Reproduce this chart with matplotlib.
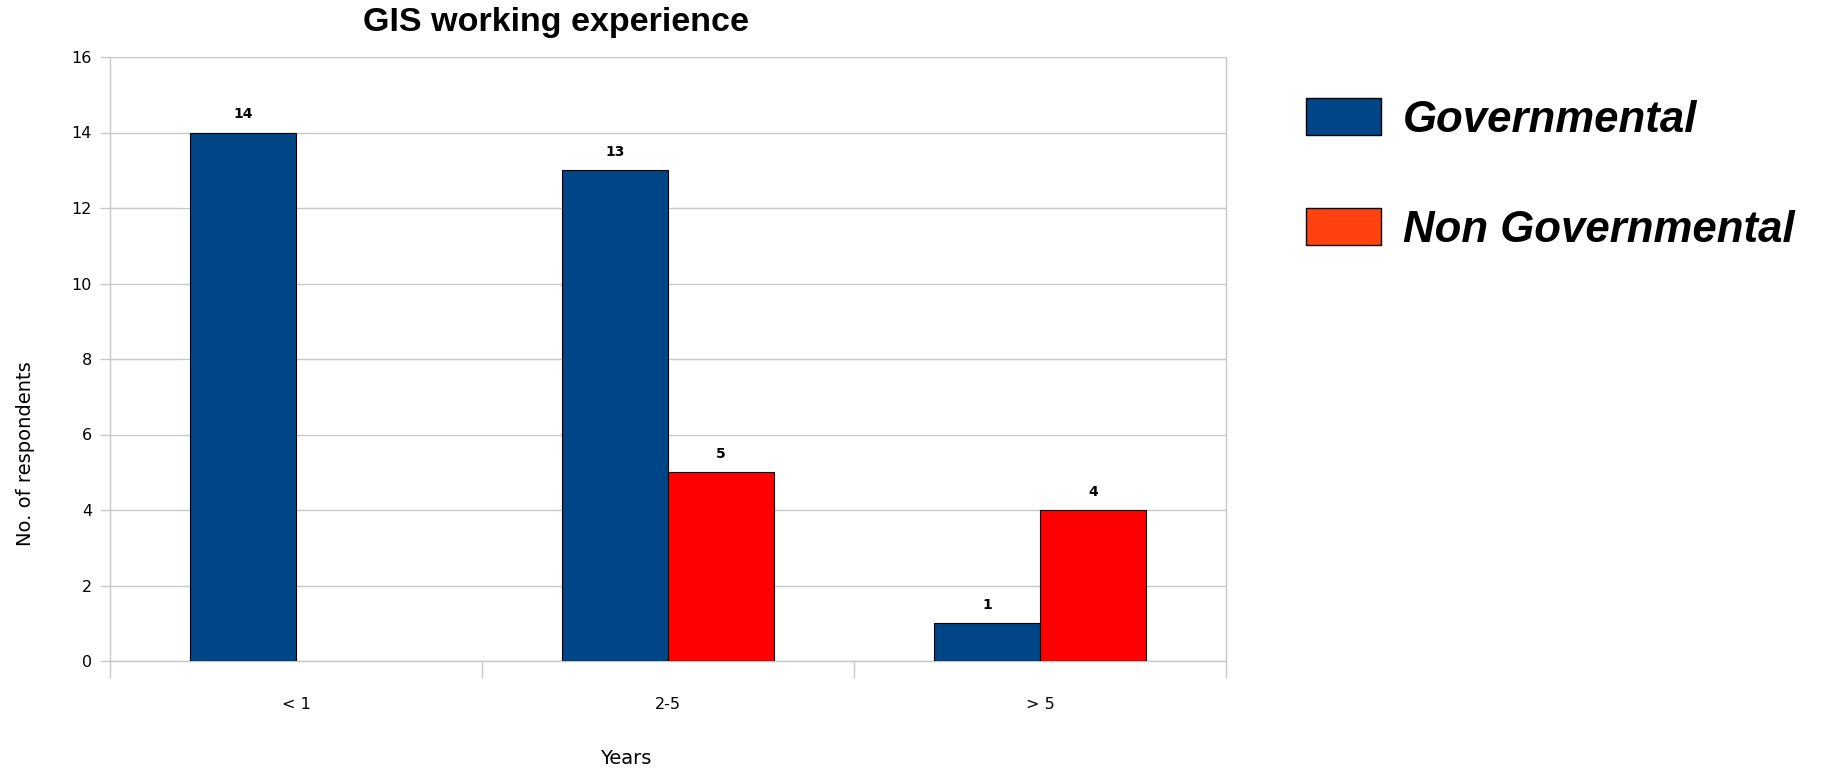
import matplotlib.pyplot as plt
from matplotlib.patches import Patch
from matplotlib.ticker import MultipleLocator, FixedLocator
import numpy as np

plt.rcParams['font.family'] = ['DejaVu Sans']

# Data
categories = ['< 1', '2-5', '> 5']
governmental = [14, 13, 1]
non_governmental = [0, 5, 4]
series_names = ['Governmental', 'Non Governmental']

blue = '#004586'
red = '#ff0000'
legend_red = '#ff420e'
grid_grey = '#c8c8c8'

fig = plt.figure(figsize=(18.24, 7.70), dpi=100)
ax = fig.add_axes([110 / 1824, 1 - 661 / 770, (1226 - 110) / 1824, (661 - 57) / 770])

x = np.arange(len(categories))
w = 0.285

# Governmental bars sit left of the category centre, non-governmental right of it
gov_bars = ax.bar(x - w / 2, governmental, w, color=blue, edgecolor='black', linewidth=0.8, zorder=3)
ngo_bars = ax.bar(x + w / 2, non_governmental, w, color=red, edgecolor='black', linewidth=0.8, zorder=3)

# Value labels (no label / outline for empty bars)
for bars, vals in [(gov_bars, governmental), (ngo_bars, non_governmental)]:
    for b, v in zip(bars, vals):
        if v > 0:
            ax.annotate(str(v), (b.get_x() + b.get_width() / 2, v), xytext=(0, 8),
                        textcoords='offset points', ha='center', va='bottom',
                        fontsize=10, fontweight='bold')
        else:
            b.set_visible(False)

ax.set_xlim(-0.5, len(categories) - 0.5)
ax.set_ylim(0, 16)
ax.yaxis.set_major_locator(MultipleLocator(2))
ax.grid(axis='y', color=grid_grey, linewidth=1, zorder=0)

# category labels at centres, tick marks at category boundaries
ax.set_xticks(x)
ax.set_xticklabels(categories)
ax.xaxis.set_minor_locator(FixedLocator(np.arange(-0.5, len(categories), 1.0)))
ax.tick_params(axis='x', which='major', length=0, pad=26, labelsize=11.5)
ax.tick_params(axis='x', which='minor', length=12, color=grid_grey, width=1)
ax.tick_params(axis='y', length=7, color=grid_grey, width=1, labelsize=11.5, pad=6)

for s in ['left', 'right', 'bottom', 'top']:
    ax.spines[s].set_color(grid_grey)
    ax.spines[s].set_linewidth(1)
ax.spines['top'].set_visible(False)

ax.set_ylabel('No. of respondents', fontsize=14, va='center')
ax.yaxis.set_label_coords(-0.076, 0.344)
ax.set_xlabel('Years', fontsize=14, va='center')
ax.xaxis.set_label_coords(0.462, -0.162)

fig.text(556 / 1824, 1 - 22 / 770, 'GIS working experience', ha='center', va='center',
         fontsize=24.5, fontweight='bold', family='Liberation Sans')

handles = [Patch(facecolor=blue, edgecolor='black', linewidth=1),
           Patch(facecolor=legend_red, edgecolor='black', linewidth=1)]
fig.legend(handles, series_names, loc='upper left', bbox_to_anchor=(1306 / 1824, 1 - 98 / 770),
           frameon=False,
           prop={'size': 31.5, 'weight': 'bold', 'style': 'italic', 'family': 'Liberation Sans'},
           handlelength=1.72, handleheight=0.92, handletextpad=0.5, labelspacing=1.55,
           borderpad=0, borderaxespad=0)

fig.savefig('out.png', dpi=100)
